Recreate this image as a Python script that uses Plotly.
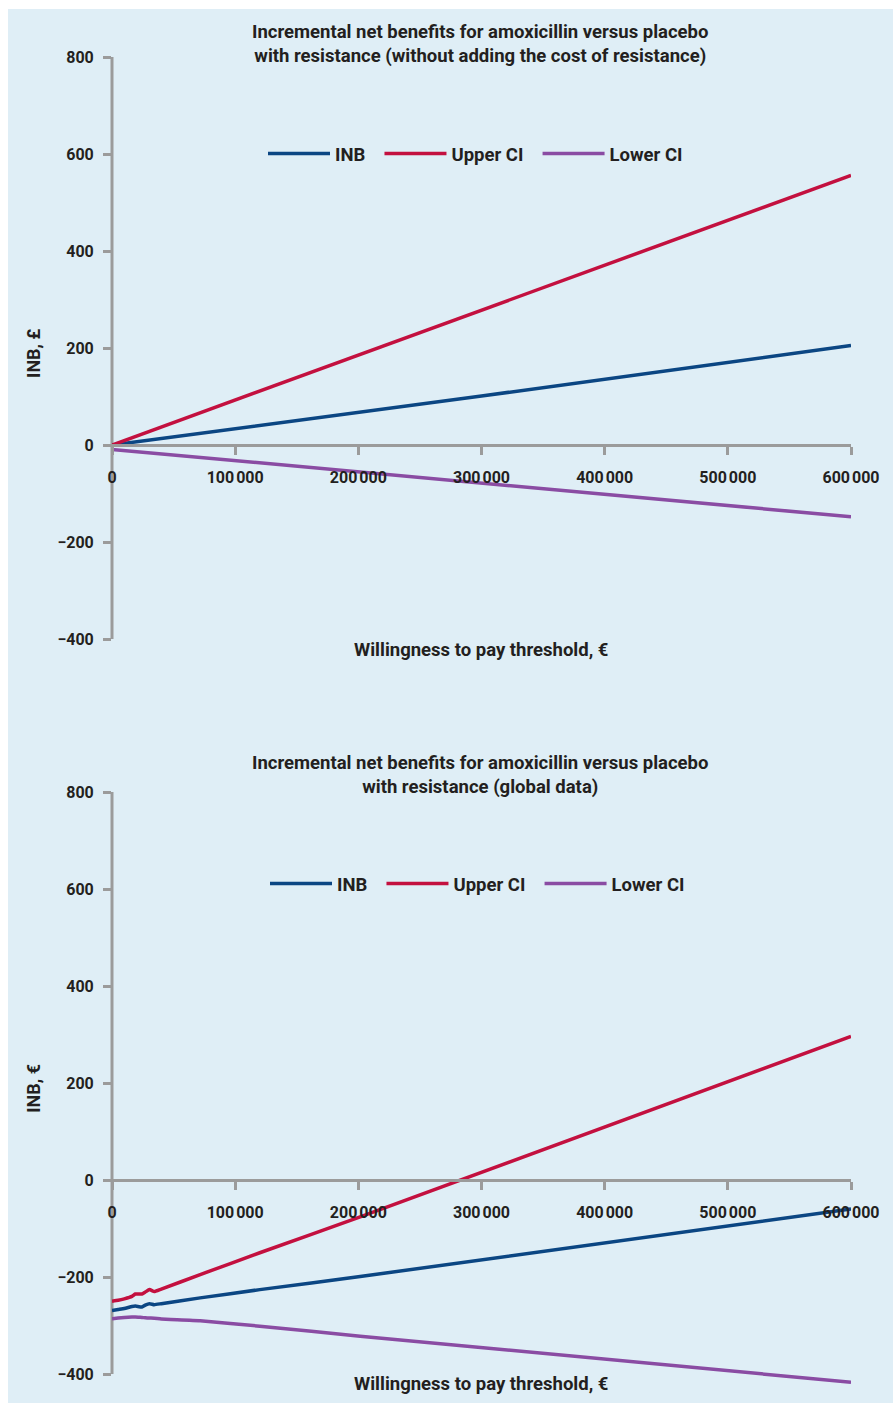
import plotly.graph_objects as go

# ---- data -------------------------------------------------------------
# Panel A: resistance without the cost of resistance
wtp_a = [0, 300000, 600000]
inb_a = [0, 101, 205]
upper_a = [0, 278, 556]
lower_a = [-9, -78, -148]

# Panel B: resistance, global data
wtp_b = [0, 5000, 10000, 16200, 18900, 24300, 27000, 30500, 34300, 40000, 71600, 120000, 201500, 600000]
inb_b = [-269, -267, -265, -261, -260, -262, -258, -255, -257, -255, -243, -226, -199, -60]
upper_b = [-250, -248, -245, -240, -235, -235, -231, -226, -230, -225, -195, -150, -76, 296]
lower_b = [-286, -284.5, -283.5, -282.5, -282.5, -283.5, -284, -284.6, -285, -286.5, -290, -301.5, -322, -417]

x_ticks = [0, 100000, 200000, 300000, 400000, 500000, 600000]
x_ticktext = ["0", "100\u202f000", "200\u202f000", "300\u202f000", "400\u202f000", "500\u202f000", "600\u202f000"]
y_ticks = [-400, -200, 0, 200, 400, 600, 800]
y_min, y_max = -400, 800

series_names = ["INB", "Upper CI", "Lower CI"]
colors = ["#0b4683", "#c3103f", "#8a4ca3"]

title_a = "Incremental net benefits for amoxicillin versus placebo<br>with resistance (without adding the cost of resistance)"
title_b = "Incremental net benefits for amoxicillin versus placebo<br>with resistance (global data)"
x_title = "Willingness to pay threshold, €"
y_title_a = "INB, £"
y_title_b = "INB, €"

# ---- layout constants ---------------------------------------------------
W, H = 893, 1403
FONT = "Roboto"
TEXT = "#231f20"
AXIS = "#9b9b9b"
BG = "#dfeef6"
PX_PER_UNIT = 582 / 1200      # vertical pixels per INB unit
Y_PAD = 22                    # extra room below -400 so low lines stay visible
LEGEND_PAD = "\u00a0\u00a0"   # a little extra space after each legend label


def py(px):
    """pixel row -> paper y"""
    return 1 - px / H


def pxx(px):
    return px / W


fig = go.Figure()

for name, ys, c in zip(series_names, [inb_a, upper_a, lower_a], colors):
    fig.add_trace(go.Scatter(x=wtp_a, y=ys, mode="lines", name=name + LEGEND_PAD,
                             line=dict(color=c, width=3.5),
                             xaxis="x", yaxis="y", legend="legend"))
for name, ys, c in zip(series_names, [inb_b, upper_b, lower_b], colors):
    fig.add_trace(go.Scatter(x=wtp_b, y=ys, mode="lines", name=name + LEGEND_PAD,
                             line=dict(color=c, width=3.5, shape="spline", smoothing=0.4),
                             xaxis="x2", yaxis="y2", legend="legend2"))

x_dom = [pxx(112), pxx(851)]
tickfont = dict(family=FONT, size=16, color=TEXT, weight="bold")
ytitle_font = dict(family=FONT, size=18, color=TEXT, weight="bold")
legend_font = dict(family=FONT, size=18.5, color=TEXT, weight="bold")

xcommon = dict(range=[0, 600000], domain=x_dom, tickvals=x_ticks, ticktext=x_ticktext,
               showline=True, linecolor=AXIS, linewidth=3, ticks="outside", ticklen=8,
               tickwidth=3, tickcolor=AXIS, showgrid=False, zeroline=False,
               tickfont=tickfont, ticklabelstandoff=9, anchor="free", automargin=False)
ycommon = dict(range=[y_min - Y_PAD, y_max], tickvals=y_ticks, showline=False,
               ticks="outside", ticklen=8, tickwidth=3, tickcolor=AXIS,
               showgrid=False, zeroline=False, tickfont=tickfont, ticklabelstandoff=6,
               automargin=False)

# each panel's y domain: 800 at top pixel, -400 at bottom pixel, plus padding below
pad_px = Y_PAD * PX_PER_UNIT
fig.update_layout(
    width=W, height=H,
    margin=dict(l=0, r=0, t=0, b=0, autoexpand=False),
    paper_bgcolor="white", plot_bgcolor="rgba(0,0,0,0)",
    xaxis=dict(xcommon, position=py(445)),
    xaxis2=dict(xcommon, position=py(1180)),
    yaxis=dict(ycommon, domain=[py(639 + pad_px), py(57)], anchor="x",
               title=dict(text=y_title_a, font=ytitle_font, standoff=12)),
    yaxis2=dict(ycommon, domain=[py(1374 + pad_px), py(792)], anchor="x2",
                title=dict(text=y_title_b, font=ytitle_font, standoff=12)),
    legend=dict(orientation="h", x=pxx(263), xanchor="left", y=py(154), yanchor="middle",
                bgcolor="rgba(0,0,0,0)", itemwidth=62, font=legend_font),
    legend2=dict(orientation="h", x=pxx(265), xanchor="left", y=py(884), yanchor="middle",
                 bgcolor="rgba(0,0,0,0)", itemwidth=62, font=legend_font),
    shapes=[
        dict(type="rect", xref="paper", yref="paper", x0=pxx(8), x1=1, y0=0, y1=py(9),
             fillcolor=BG, line=dict(width=0), layer="below"),
        # vertical axis lines, from -400 to 800 only
        dict(type="line", xref="paper", yref="y", x0=pxx(112), x1=pxx(112), y0=y_min, y1=y_max,
             line=dict(color=AXIS, width=3), layer="below"),
        dict(type="line", xref="paper", yref="y2", x0=pxx(112), x1=pxx(112), y0=y_min, y1=y_max,
             line=dict(color=AXIS, width=3), layer="below"),
    ],
)

title_font = dict(family=FONT, size=18.5, color=TEXT, weight="bold")
for txt, ypx in [(title_a, 44), (title_b, 775)]:
    fig.add_annotation(text=txt, xref="paper", yref="paper", x=pxx(480), y=py(ypx),
                       xanchor="center", yanchor="middle", showarrow=False, font=title_font)
for ypx in [650, 1384]:
    fig.add_annotation(text=x_title, xref="paper", yref="paper", x=pxx(481), y=py(ypx),
                       xanchor="center", yanchor="middle", showarrow=False, font=title_font)

fig.write_html("out.html")
